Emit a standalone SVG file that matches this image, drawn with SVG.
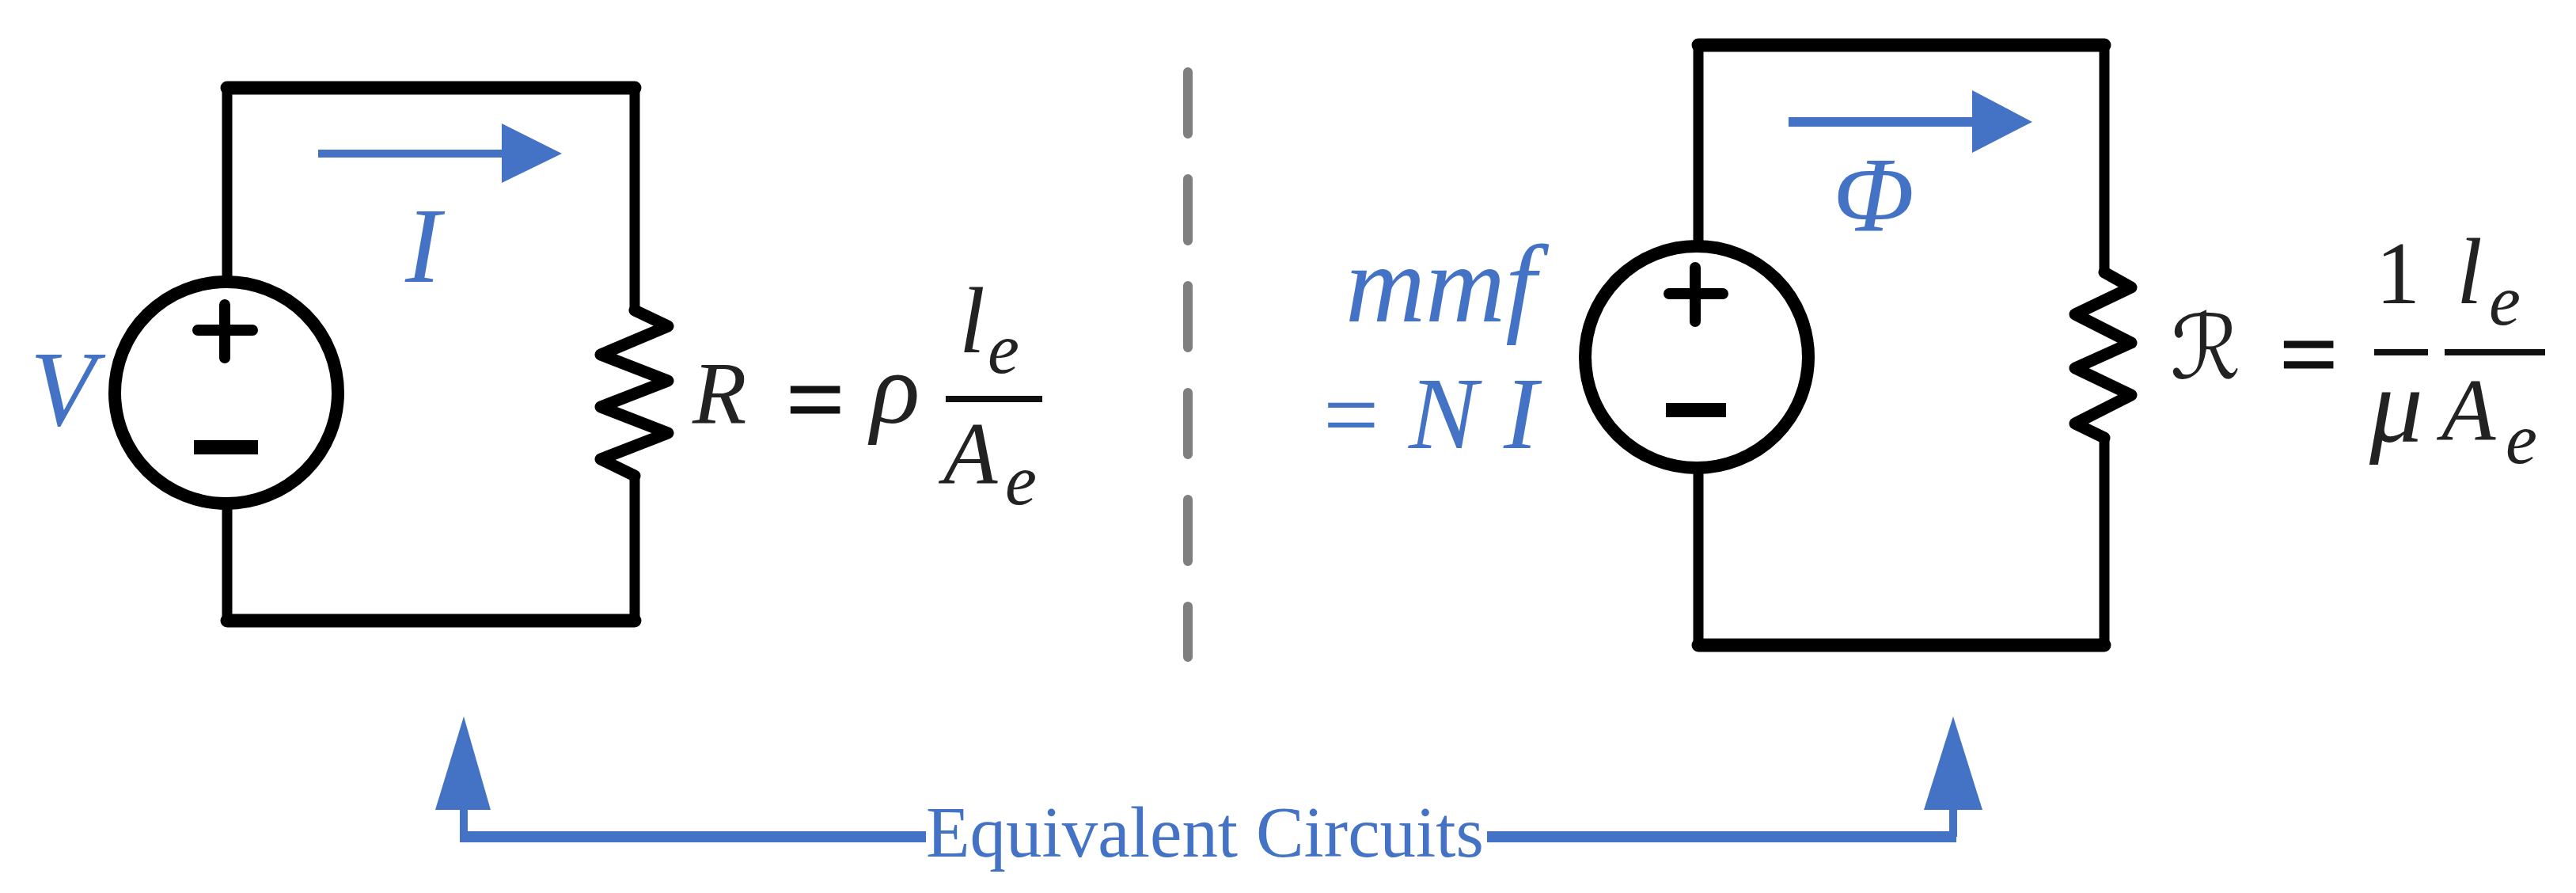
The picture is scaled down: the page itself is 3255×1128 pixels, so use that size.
<svg xmlns="http://www.w3.org/2000/svg" width="3255" height="1128" viewBox="0 0 3255 1128">
<style>
.w{fill:none;stroke:#000;stroke-width:13;stroke-linejoin:round;stroke-linecap:round}
.h{fill:none;stroke:#000;stroke-width:17;stroke-linecap:round}
.s{fill:none;stroke:#000;stroke-width:15;stroke-linecap:butt}
.c{fill:#fff;stroke:#000;stroke-width:16}
.z{fill:none;stroke:#000;stroke-width:15;stroke-linejoin:round;stroke-linecap:round}
.b{fill:none;stroke:#4472c4;stroke-width:10}
.a{fill:#4472c4}
.bar{stroke:#111;stroke-width:8}
text{font-family:"Liberation Serif",serif}
.m{font-style:italic;fill:#222}
.mb{font-style:italic;fill:#4472c4}
.mu{fill:#222}
.eq{fill:#111;stroke:#111;stroke-width:3}
.bu{fill:#4472c4}
</style>
<g id="connectors">
<path class="w" d="M287 496V111M287 111H802V392M802 601V784H287V496"/>
<path class="h" d="M287 111H802M287 784H802"/>
<path class="w" d="M2146 451V57H2659V344M2659 553V815H2146V451"/>
<path class="h" d="M2146 57H2659M2146 815H2659"/>
<path class="b" d="M402 194H640"/>
<path class="a" d="M634 156L710 194L634 231Z"/>
<path class="b" style="stroke-width:12" d="M2260 154H2498"/>
<path class="a" d="M2492 114L2568 154L2492 193Z"/>
<path class="b" d="M586 1020V1057"/>
<path class="b" style="stroke-width:14" d="M581 1057H1170M1879 1057H2472"/>
<path class="b" d="M2468 1020V1057"/>
<path class="a" d="M586 905L620 1023H550Z"/>
<path class="a" d="M2468 905L2505 1023H2431Z"/>
<path d="M1501 91V830" style="fill:none;stroke:#7f7f7f;stroke-width:12;stroke-linecap:round;stroke-dasharray:78 57"/>
</g>
<g id="source-v">
<ellipse class="c" cx="286" cy="496" rx="141" ry="140"/>
<path class="w" style="stroke-width:14" d="M284 385V452M250 417H319"/>
<path class="s" d="M245 565H326" style="stroke-width:18"/>
</g>
<g id="resistor-r">
<path class="z" d="M802 392L844 412L759 448L844 481L759 514L844 547L759 580L802 601"/>
</g>
<g id="source-mmf">
<ellipse class="c" cx="2144" cy="451" rx="141" ry="140"/>
<path class="w" style="stroke-width:14" d="M2142 338V406M2109 371H2177"/>
<path class="s" d="M2105 518H2181" style="stroke-width:18"/>
</g>
<g id="resistor-reluctance">
<path class="z" d="M2659 344L2693 363L2622 397L2693 433L2622 465L2693 499L2622 535L2659 553"/>
</g>
<g id="labels-left">
<text class="mb" x="38" y="537" font-size="135">V</text>
<text class="mb" x="512" y="356" font-size="135">I</text>
<text class="m" x="875" y="534" font-size="112">R</text>
<text class="eq" x="994" y="547" font-size="128">=</text>
<text class="m" x="1100" y="534" font-size="130">ρ</text>
<line class="bar" x1="1195" y1="504" x2="1317" y2="504"/>
<text class="m" x="1212" y="445" font-size="118">l</text>
<text class="m" x="1248" y="471" font-size="90">e</text>
<text class="m" x="1192" y="611" font-size="112">A</text>
<text class="m" x="1270" y="637" font-size="90">e</text>
</g>
<g id="labels-right">
<text class="mb" x="1700" y="406" font-size="140">mmf</text>
<text class="bu" x="1672" y="566" font-size="125">=</text>
<text class="mb" x="1780" y="566" font-size="130">N</text>
<text class="mb" x="1900" y="566" font-size="130">I</text>
<text class="mb" x="2316" y="292" font-size="135">Φ</text>
<text class="m" x="2742" y="478" font-size="112" style="font-family:'DejaVu Sans',serif">ℛ</text>
<text class="eq" x="2881" y="490" font-size="128">=</text>
<text class="mu" x="3002" y="383" font-size="112">1</text>
<line class="bar" x1="3000" y1="445" x2="3068" y2="445"/>
<text class="m" x="2994" y="558" font-size="135">μ</text>
<line class="bar" x1="3089" y1="445" x2="3216" y2="445"/>
<text class="m" x="3104" y="383" font-size="118">l</text>
<text class="m" x="3145" y="410" font-size="90">e</text>
<text class="m" x="3085" y="556" font-size="112">A</text>
<text class="m" x="3166" y="585" font-size="90">e</text>
</g>
<g id="label-equivalent">
<text class="bu" x="1170" y="1082" font-size="90" textLength="705" lengthAdjust="spacingAndGlyphs">Equivalent Circuits</text>
</g>
</svg>
